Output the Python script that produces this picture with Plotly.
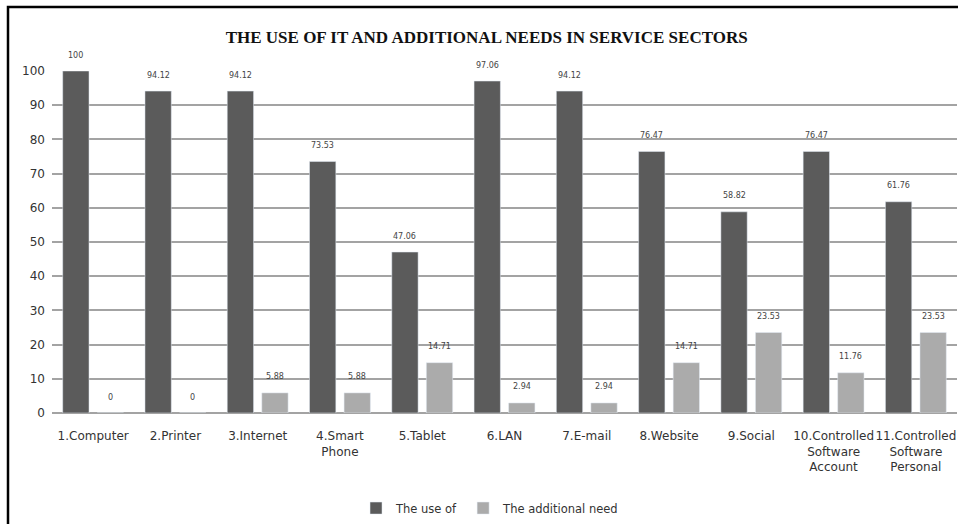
import plotly.graph_objects as go

categories = ["1.Computer", "2.Printer", "3.Internet", "4.Smart<br>Phone", "5.Tablet",
              "6.LAN", "7.E-mail", "8.Website", "9.Social",
              "10.Controlled<br>Software<br>Account", "11.Controlled<br>Software<br>Personal"]
use_of = [100, 94.12, 94.12, 73.53, 47.06, 97.06, 94.12, 76.47, 58.82, 76.47, 61.76]
additional_need = [0, 0, 5.88, 5.88, 14.71, 2.94, 2.94, 14.71, 23.53, 11.76, 23.53]
y_ticks = [0, 10, 20, 30, 40, 50, 60, 70, 80, 90, 100]

DARK = "#5b5b5b"
LIGHT = "#ababab"
W = 0.32
OFF_DARK = -0.37
OFF_LIGHT = 0.05

fig = go.Figure()
fig.add_trace(go.Bar(x=categories, y=use_of, name="The use of", marker_color=DARK,
                     width=W, offset=OFF_DARK))
fig.add_trace(go.Bar(x=categories, y=additional_need, name="The additional need",
                     marker_color=LIGHT, width=W, offset=OFF_LIGHT))

annotations = []
for i, v in enumerate(use_of):
    annotations.append(dict(x=i + OFF_DARK + W / 2, y=v, xref="x", yref="y", text=f"{v:g}",
                            showarrow=False, yshift=16, yanchor="middle",
                            font=dict(family="DejaVu Sans", size=8, color="#444444")))
for i, v in enumerate(additional_need):
    annotations.append(dict(x=i + OFF_LIGHT + W / 2, y=v, xref="x", yref="y", text=f"{v:g}",
                            showarrow=False, yshift=16, yanchor="middle",
                            font=dict(family="DejaVu Sans", size=8, color="#444444")))

fig.update_layout(
    width=958, height=524,
    margin=dict(l=52, r=1, t=71, b=111),
    paper_bgcolor="white", plot_bgcolor="white",
    barmode="overlay",
    showlegend=True,
    title=dict(text="<b>THE USE OF IT AND ADDITIONAL NEEDS IN SERVICE SECTORS</b>",
               x=0.508, xref="container", xanchor="center",
               y=1 - 37 / 524, yref="container", yanchor="middle",
               font=dict(family="Liberation Serif", size=17, color="#111111")),
    legend=dict(orientation="h", x=0.484, xanchor="center", y=-0.278, yanchor="middle",
                font=dict(family="DejaVu Sans", size=11.5, color="#333333"),
                itemwidth=30, bgcolor="rgba(0,0,0,0)"),
    annotations=annotations,
    xaxis=dict(showgrid=False, showline=False, ticks="", zeroline=False,
               tickfont=dict(family="DejaVu Sans", size=12, color="#333333"),
               tickangle=0, ticklabelstandoff=14, automargin=False),
    yaxis=dict(range=[0, 100], tickvals=y_ticks, showgrid=True, gridcolor="#a3a3a3",
               gridwidth=1.5, zeroline=True, zerolinecolor="#a3a3a3", zerolinewidth=1.5,
               showline=False, ticks="", ticklabelstandoff=6, automargin=False,
               tickfont=dict(family="DejaVu Sans", size=12, color="#333333")),
    shapes=[dict(type="rect", xref="paper", yref="paper",
                 x0=(8 - 52) / 905, x1=1.02, y0=-0.4, y1=(413 - 7) / 342,
                 line=dict(color="black", width=2.5), fillcolor="rgba(0,0,0,0)")],
)
for tr in fig.data:
    tr.cliponaxis = False

fig.write_html("out.html", config={"displayModeBar": False},
               post_script="document.body.style.margin='0';document.body.style.overflow='hidden';")
